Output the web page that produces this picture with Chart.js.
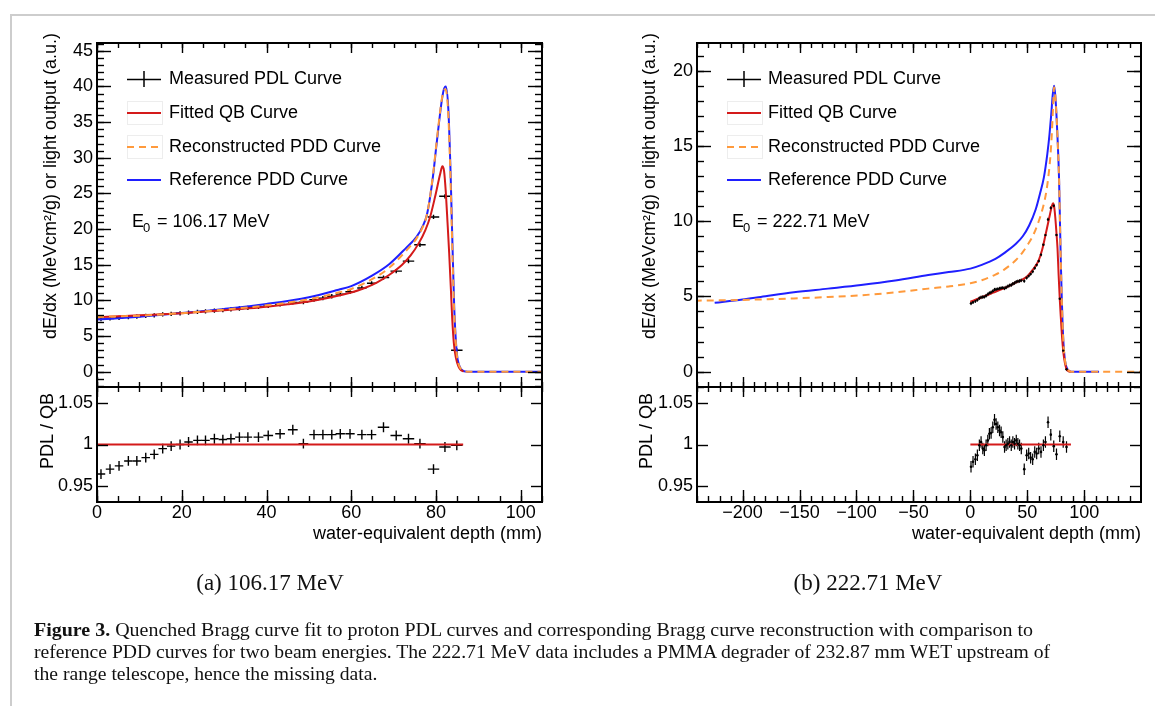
<!DOCTYPE html>
<html>
<head>
<meta charset="utf-8">
<script src="https://cdn.jsdelivr.net/npm/chart.js@4.4.1/dist/chart.umd.min.js"></script>
<style>
html,body{margin:0;padding:0;background:#fff;}
#page{position:relative;width:1155px;height:706px;overflow:hidden;background:#fff;}
#page canvas{position:absolute;left:0;top:0;}
.fr{position:absolute;background:#cdcdcd;}
.sub{position:absolute;width:320px;text-align:center;font-family:"Liberation Serif","DejaVu Serif",serif;font-size:23px;line-height:28px;color:#111;white-space:nowrap;}
.cap{position:absolute;left:34px;font-family:"Liberation Serif","DejaVu Serif",serif;font-size:18px;line-height:20px;color:#111;white-space:nowrap;transform-origin:0 0;}
</style>
</head>
<body>
<div id="page">
  <div class="fr" style="left:10px;top:14px;width:1145px;height:2px"></div>
  <div class="fr" style="left:10px;top:14px;width:2px;height:692px"></div>
  <canvas id="cLT" width="1155" height="706"></canvas>
  <canvas id="cLB" width="1155" height="706"></canvas>
  <canvas id="cRT" width="1155" height="706"></canvas>
  <canvas id="cRB" width="1155" height="706"></canvas>
  <div class="sub" style="left:110px;top:569px">(a) 106.17 MeV</div>
  <div class="sub" style="left:708px;top:569px">(b) 222.71 MeV</div>
  <div class="cap" id="cap1" style="top:620px"><b>Figure 3.</b> Quenched Bragg curve fit to proton PDL curves and corresponding Bragg curve reconstruction with comparison to</div>
  <div class="cap" id="cap2" style="top:642px">reference PDD curves for two beam energies. The 222.71 MeV data includes a PMMA degrader of 232.87 mm WET upstream of</div>
  <div class="cap" id="cap3" style="top:664px">the range telescope, hence the missing data.</div>
</div>
<script>
// ---------------- DATA ----------------
// (a) 106.17 MeV : measured PDL bins
const leftX     = [0.94, 3.07, 5.2, 7.4, 9.4, 11.5, 13.5, 15.5, 17.5, 19.6, 21.6, 23.7, 25.6, 27.7, 29.7, 31.6, 33.6, 35.6, 38.1, 40.4, 43.2, 46.2, 48.7, 51.2, 53.3, 55.4, 57.4, 59.7, 62.5, 64.8, 67.6, 70.6, 73.5, 76.2, 79.4, 82.1, 84.9];
const leftErrX  = [1.0, 1.0, 1.0, 1.0, 1.0, 1.0, 1.0, 1.0, 1.0, 1.0, 1.0, 1.0, 1.0, 1.0, 1.0, 1.0, 1.0, 1.0, 1.15, 1.15, 1.15, 1.15, 1.15, 1.1, 1.1, 1.1, 1.1, 1.1, 1.1, 1.1, 1.35, 1.35, 1.35, 1.35, 1.35, 1.35, 1.35];
const leftPDL   = [7.36, 7.46, 7.56, 7.66, 7.72, 7.82, 7.90, 8.03, 8.11, 8.19, 8.28, 8.39, 8.46, 8.57, 8.64, 8.74, 8.86, 8.96, 9.08, 9.23, 9.44, 9.71, 9.76, 10.10, 10.32, 10.58, 10.88, 11.20, 11.74, 12.40, 13.20, 14.10, 15.50, 17.80, 21.70, 24.60, 3.00];
const leftRatio = [0.964, 0.970, 0.974, 0.980, 0.980, 0.984, 0.988, 0.995, 0.998, 1.000, 1.003, 1.005, 1.005, 1.007, 1.006, 1.007, 1.009, 1.009, 1.009, 1.011, 1.013, 1.018, 1.001, 1.012, 1.012, 1.012, 1.013, 1.013, 1.012, 1.012, 1.021, 1.011, 1.007, 1.001, 0.970, 0.997, 0.999];
// (a) curves
const leftQBx  = [0, 5, 10, 15, 20, 25, 30, 35, 40, 45, 50, 55, 60, 63, 66, 69, 72, 74, 76, 77.5, 78.6, 79.8, 81.0, 81.5, 81.9, 82.3, 82.7, 83.1, 83.5, 83.8, 84.2, 84.7, 85.3, 85.9, 86.5];
const leftQBy  = [7.62, 7.76, 7.9, 8.05, 8.2, 8.4, 8.6, 8.85, 9.12, 9.45, 9.85, 10.4, 11.1, 11.7, 12.5, 13.6, 15.0, 16.3, 18.1, 19.9, 21.7, 24.6, 27.8, 28.8, 28.1, 25.2, 21.0, 16.6, 11.6, 7.6, 4.0, 1.9, 0.7, 0.2, 0.03];
const leftRecx = [0, 10, 20, 30, 40, 50, 57, 60, 65, 69, 73, 75.4, 77, 77.8, 78.6, 79.4, 80.0, 80.6, 81.3, 81.8, 82.2, 82.8, 83.3, 83.7, 84.2, 84.8, 85.3, 85.9, 86.6, 87.5, 105];
const leftRecy = [7.68, 7.85, 8.2, 8.7, 9.3, 10.15, 11.1, 11.6, 13.0, 14.6, 17.0, 18.7, 20.5, 21.9, 24.6, 28.2, 31.5, 34.7, 38.0, 39.4, 39.6, 37.0, 29.5, 20.5, 9.8, 3.0, 1.1, 0.35, 0.05, 0, 0];
const leftRefx = [0, 10, 20, 30, 40, 50, 57, 60, 65, 69, 73, 75.4, 77, 77.8, 78.6, 79.4, 80.0, 80.6, 81.3, 81.8, 82.3, 82.9, 83.4, 83.8, 84.3, 84.9, 85.4, 85.9, 86.6, 87.5, 105];
const leftRefy = [7.3, 7.72, 8.22, 8.8, 9.5, 10.45, 11.5, 12.0, 13.5, 15.1, 17.4, 18.9, 20.6, 21.9, 24.5, 28.0, 31.3, 34.4, 37.8, 39.5, 40.0, 36.8, 28.5, 19.5, 8.8, 2.6, 1.0, 0.35, 0.05, 0, 0];
const leftFitRange = [0, 86.4];

// (b) 222.71 MeV : measured PDL points
const rightX     = [0.56, 2.33, 4.4, 6.15, 7.9, 9.4, 10.9, 12.3, 13.8, 15.3, 16.7, 18.2, 19.7, 21.2, 22.6, 24.1, 25.6, 27.0, 28.5, 30.0, 31.4, 32.9, 34.4, 35.9, 37.3, 38.8, 40.3, 41.7, 43.2, 44.7, 47.3, 49.4, 51.2, 52.9, 54.7, 56.5, 58.2, 60.0, 62.0, 64.1, 65.9, 68.2, 70.6, 73.2, 75.6, 78.5, 81.5, 84.4];
const rightPDL   = [4.54, 4.62, 4.69, 4.77, 4.88, 4.94, 4.96, 4.98, 5.05, 5.14, 5.22, 5.27, 5.35, 5.45, 5.46, 5.49, 5.52, 5.55, 5.57, 5.54, 5.60, 5.67, 5.73, 5.76, 5.84, 5.89, 5.97, 6.00, 6.03, 6.07, 6.03, 6.24, 6.37, 6.50, 6.66, 6.89, 7.10, 7.36, 7.78, 8.44, 9.08, 10.12, 10.88, 11.03, 9.09, 4.85, 1.40, 0.16];
const rightRatio = [0.973, 0.979, 0.982, 0.987, 0.999, 1.003, 0.995, 0.993, 0.999, 1.005, 1.013, 1.014, 1.021, 1.030, 1.025, 1.021, 1.017, 1.015, 1.009, 0.997, 0.999, 1.001, 1.003, 0.999, 1.003, 1.001, 1.005, 1.001, 0.999, 0.995, 0.970, 0.987, 0.989, 0.984, 0.982, 0.991, 0.989, 0.995, 0.991, 0.999, 1.003, 1.027, 1.012, 0.998, 0.988, 1.010, 1.003, 0.997];
// (b) curves
const rightQBx  = [0, 5, 10, 15, 20, 25, 30, 35, 40, 45, 50, 55, 60, 63, 66, 68, 70, 71.5, 72.6, 73.5, 74.5, 75.5, 76.5, 77.5, 78.5, 79.5, 80.5, 81.5, 82.5, 83.5, 84.5, 86, 88.3];
const rightQBy  = [4.65, 4.8, 4.95, 5.1, 5.25, 5.41, 5.56, 5.73, 5.93, 6.1, 6.35, 6.8, 7.4, 8.1, 9.1, 9.8, 10.5, 11.0, 11.2, 11.0, 10.3, 9.3, 8.2, 6.4, 4.8, 3.5, 2.3, 1.4, 0.8, 0.4, 0.15, 0.04, 0];
const rightRecx = [-242, -220, -200, -184, -155, -125, -96, -66, -37, -19, 0, 10, 22, 30, 40, 46, 50, 55, 60, 64, 66.5, 68.2, 70, 71.5, 72.6, 73.5, 74.5, 75.5, 76.5, 77.9, 78.7, 79.4, 80.2, 80.9, 81.8, 82.8, 83.8, 85, 86.7, 88, 149];
const rightRecy = [4.72, 4.74, 4.77, 4.8, 4.87, 4.96, 5.08, 5.27, 5.52, 5.66, 5.88, 6.08, 6.45, 6.8, 7.42, 7.95, 8.4, 9.05, 10.0, 11.0, 11.9, 12.8, 14.1, 15.8, 17.6, 18.9, 18.4, 17.2, 15.6, 12.7, 9.8, 7.3, 5.0, 3.3, 1.8, 0.9, 0.45, 0.2, 0.05, 0, 0];
const rightRefx = [-224.5, -200, -184, -155, -125, -96, -66, -37, -19, 0, 10, 22, 30, 40, 46, 51.5, 57.4, 61, 64.5, 67.6, 69.5, 71, 72.3, 73.5, 74.5, 75.5, 76.5, 77.9, 78.7, 79.4, 80.2, 80.9, 81.8, 82.8, 83.8, 85, 86.7, 88, 113];
const rightRefy = [4.58, 4.8, 4.97, 5.28, 5.52, 5.76, 6.06, 6.42, 6.62, 6.85, 7.1, 7.5, 7.9, 8.5, 9.0, 9.7, 10.8, 11.8, 12.9, 14.5, 15.8, 17.1, 18.4, 19.0, 18.4, 17.2, 15.6, 12.7, 9.8, 7.3, 5.0, 3.3, 1.8, 0.9, 0.45, 0.2, 0.05, 0, 0];
const rightFitRange = [0, 88.3];

// tick labels / texts
const energies   = ['106.17 MeV', '222.71 MeV'];
const seriesNames = ['Measured PDL Curve', 'Fitted QB Curve', 'Reconstructed PDD Curve', 'Reference PDD Curve'];
const yTitleTop   = 'dE/dx (MeVcm\u00B2/g) or light output (a.u.)';
const yTitleRatio = 'PDL / QB';
const xTitle      = 'water-equivalent depth (mm)';

// ---------------- STYLE ----------------
const FONT = '"Liberation Sans", Arial, Helvetica, sans-serif';
const RED = '#d41a1a', BLUE = '#1f1fff', ORANGE = '#ff9a3c';

function pts(xs, ys) { return xs.map((x, i) => ({x: x, y: ys[i]})); }
function curve(label, xs, ys, color, dash, box) {
  return {label, data: pts(xs, ys), borderColor: color, backgroundColor: color, borderWidth: 2,
          borderDash: dash || [], pointRadius: 0, pointHoverRadius: 0, fill: false,
          cubicInterpolationMode: 'monotone', showLine: true, legendBox: !!box};
}
function points(label, xs, ys, ex, ey, r, lw) {
  return {label, data: pts(xs, ys), showLine: false, pointRadius: r, pointHoverRadius: r,
          pointBackgroundColor: '#000', pointBorderColor: '#000', pointBorderWidth: 0,
          borderColor: '#000', backgroundColor: '#000', errX: ex, errY: ey, errWidth: lw || 1.4, isPoints: true};
}

// error bars, drawn below the curves through the chart scales
const errorBars = {
  id: 'errorBars',
  beforeDatasetsDraw(chart) {
    const {ctx, chartArea: a, scales: {x, y}} = chart;
    ctx.save();
    ctx.beginPath(); ctx.rect(a.left, a.top, a.right - a.left, a.bottom - a.top); ctx.clip();
    ctx.strokeStyle = '#000';
    chart.data.datasets.forEach(ds => {
      if (!ds.isPoints) return;
      ctx.lineWidth = ds.errWidth;
      ds.data.forEach((p, i) => {
        const ex = Array.isArray(ds.errX) ? ds.errX[i] : ds.errX;
        const ey = Array.isArray(ds.errY) ? ds.errY[i] : ds.errY;
        const px = x.getPixelForValue(p.x), py = y.getPixelForValue(p.y);
        ctx.beginPath();
        ctx.moveTo(x.getPixelForValue(p.x - ex), py); ctx.lineTo(x.getPixelForValue(p.x + ex), py);
        ctx.moveTo(px, y.getPixelForValue(p.y - ey)); ctx.lineTo(px, y.getPixelForValue(p.y + ey));
        ctx.stroke();
      });
    });
    ctx.restore();
  }
};

// ROOT style frame with inward ticks on all four sides
const rootFrame = {
  id: 'rootFrame',
  afterDraw(chart, args, o) {
    const {ctx, chartArea: a, scales: {x, y}} = chart;
    ctx.save();
    ctx.strokeStyle = '#000'; ctx.lineWidth = 1.4;
    const seg = (x0, y0, x1, y1) => { ctx.beginPath(); ctx.moveTo(x0, y0); ctx.lineTo(x1, y1); ctx.stroke(); };
    const xt = (step, len) => {
      for (let i = Math.ceil(x.min / step - 1e-6); i * step <= x.max + 1e-6; i++) {
        const px = Math.round(x.getPixelForValue(i * step)) + 0.5;
        seg(px, a.bottom, px, a.bottom - len[0]); seg(px, a.top, px, a.top + len[1]);
      }
    };
    const yt = (step, len) => {
      for (let i = Math.ceil(y.min / step - 1e-6); i * step <= y.max + 1e-6; i++) {
        const py = Math.round(y.getPixelForValue(i * step)) + 0.5;
        seg(a.left, py, a.left + len, py); seg(a.right, py, a.right - len, py);
      }
    };
    if (o.xMinor) xt(o.xMinor, o.xMinorLen);
    xt(o.xMajor, o.xMajorLen);
    if (o.yMinor) yt(o.yMinor, o.yMinorLen);
    yt(o.yMajor, o.yMajorLen);
    ctx.lineWidth = 2;
    ctx.strokeRect(a.left, a.top, a.right - a.left, a.bottom - a.top);
    ctx.restore();
  }
};

// free texts (axis titles)
const rootText = {
  id: 'rootText',
  afterDraw(chart, args, o) {
    const ctx = chart.ctx;
    (o.items || []).forEach(it => {
      ctx.save();
      ctx.font = (it.size || 18) + 'px ' + FONT;
      ctx.fillStyle = '#000'; ctx.textAlign = it.align || 'left'; ctx.textBaseline = 'middle';
      ctx.translate(it.x, it.y);
      if (it.rot) ctx.rotate(it.rot);
      ctx.fillText(it.text, 0, 0);
      ctx.restore();
    });
  }
};

// ROOT-like legend built from the datasets
const rootLegend = {
  id: 'rootLegend',
  afterDraw(chart, args, o) {
    if (!o.rows) return;
    const ctx = chart.ctx, dss = chart.data.datasets;
    ctx.save();
    ctx.font = '18px ' + FONT; ctx.textBaseline = 'middle'; ctx.textAlign = 'left'; ctx.fillStyle = '#000';
    o.order.forEach((idx, k) => {
      const ds = dss[idx], yy = o.rows[k];
      const xm = (o.x0 + o.x1) / 2;
      if (ds.isPoints) {
        ctx.strokeStyle = '#000'; ctx.lineWidth = 1.5; ctx.setLineDash([]);
        ctx.beginPath(); ctx.moveTo(o.x0, yy + 0.5); ctx.lineTo(o.x1, yy + 0.5);
        ctx.moveTo(xm, yy - 8); ctx.lineTo(xm, yy + 8); ctx.stroke();
      } else {
        if (ds.legendBox) {
          ctx.strokeStyle = 'rgba(0,0,0,0.07)'; ctx.lineWidth = 1; ctx.setLineDash([]);
          ctx.strokeRect(o.x0 + 0.5, yy - 11.5, o.x1 - o.x0 + 1, 23);
        }
        ctx.strokeStyle = ds.borderColor; ctx.lineWidth = 2; ctx.setLineDash(ds.borderDash || []);
        ctx.beginPath(); ctx.moveTo(o.x0, yy); ctx.lineTo(o.x1, yy); ctx.stroke();
        ctx.setLineDash([]);
      }
      ctx.fillText(ds.label, o.tx, yy);
    });
    // energy label E0 = ...
    ctx.fillText('E', o.ex, o.ey);
    ctx.font = '13px ' + FONT; ctx.fillText('0', o.ex + 11, o.ey + 6);
    ctx.font = '18px ' + FONT; ctx.fillText('= ' + o.energy, o.ex + 25, o.ey);
    ctx.restore();
  }
};

function yAxis(min, max, step, fmt) {
  return {type: 'linear', position: 'left', min, max,
    afterFit(s) { s.width = 60; },
    grid: {display: false, drawTicks: false}, border: {display: false},
    ticks: {stepSize: step, includeBounds: false, autoSkip: false, padding: 4, color: '#000',
            font: {family: FONT, size: 18}, callback: fmt}};
}
function xAxis(min, max, step, show) {
  if (!show) return {type: 'linear', position: 'bottom', min, max, display: false};
  return {type: 'linear', position: 'bottom', min, max,
    afterFit(s) { s.height = 50; },
    grid: {display: false, drawTicks: false}, border: {display: false},
    ticks: {stepSize: step, includeBounds: false, autoSkip: false, maxRotation: 0, minRotation: 0,
            padding: 0, color: '#000', font: {family: FONT, size: 18},
            callback: v => String(v).replace('-', '\u2212')}};
}
const intFmt = v => String(v);
const ratioFmt = v => String(Math.round(v * 100) / 100);

function build(id, datasets, scales, padding, frame, texts, legend) {
  return new Chart(document.getElementById(id), {
    type: 'line',
    data: {datasets},
    options: {
      responsive: false, animation: false, devicePixelRatio: 1,
      layout: {padding},
      scales,
      plugins: {legend: {display: false}, tooltip: {enabled: false},
                rootFrame: frame, rootText: {items: texts}, rootLegend: legend || {}}
    },
    plugins: [errorBars, rootFrame, rootText, rootLegend]
  });
}

const CW = 1155, CH = 706;
const HP = Math.PI / 2;
// panel geometry (pixels)
const L = {left: 97, right: 542}, R = {left: 697, right: 1141};
const topY = 43, midY = 387, botY = 502;

const topFrameL = {xMajor: 20, xMinor: 5, yMajor: 5, yMinor: 1, xMajorLen: [10, 10], xMinorLen: [5, 5], yMajorLen: 14, yMinorLen: 7};
const topFrameR = {xMajor: 50, xMinor: 10, yMajor: 5, yMinor: 1, xMajorLen: [10, 10], xMinorLen: [5, 5], yMajorLen: 14, yMinorLen: 7};
const botFrameL = {xMajor: 20, xMinor: 5, yMajor: 0.05, xMajorLen: [12, 10], xMinorLen: [6, 5], yMajorLen: 11};
const botFrameR = {xMajor: 50, xMinor: 10, yMajor: 0.05, xMajorLen: [12, 10], xMinorLen: [6, 5], yMajorLen: 11};

// ----- (a) top -----
build('cLT',
  [points(seriesNames[0], leftX, leftPDL, leftErrX, 0.3, 0),
   curve(seriesNames[2], leftRecx, leftRecy, ORANGE, [7, 5], true),
   curve(seriesNames[1], leftQBx, leftQBy, RED, [], true),
   curve(seriesNames[3], leftRefx, leftRefy, BLUE, [])],
  {x: xAxis(0, 105, 20, false), y: yAxis(-2.15, 46.1, 5, intFmt)},
  {left: L.left - 60, right: CW - L.right, top: topY, bottom: CH - midY},
  topFrameL,
  [{text: yTitleTop, x: 51, y: 33, align: 'right', rot: -HP}],
  {rows: [79, 113, 147, 180], order: [0, 2, 1, 3], x0: 127, x1: 161, tx: 169, ex: 132, ey: 222, energy: energies[0]});

// ----- (a) ratio -----
build('cLB',
  [points('ratio', leftX, leftRatio, leftErrX, 0.006, 0),
   curve('unity', leftFitRange, [1, 1], RED, [])],
  {x: xAxis(0, 105, 20, true), y: yAxis(0.93, 1.07, 0.05, ratioFmt)},
  {left: L.left - 60, right: CW - L.right, top: midY, bottom: CH - botY - 50},
  botFrameL,
  [{text: yTitleRatio, x: 48, y: 393, align: 'right', rot: -HP},
   {text: xTitle, x: L.right, y: 534, align: 'right'}]);

// ----- (b) top -----
build('cRT',
  [points(seriesNames[0], rightX, rightPDL, 0.7, 0.12, 1.2, 1),
   curve(seriesNames[2], rightRecx, rightRecy, ORANGE, [7, 5], true),
   curve(seriesNames[1], rightQBx, rightQBy, RED, [], true),
   curve(seriesNames[3], rightRefx, rightRefy, BLUE, [])],
  {x: xAxis(-240, 149.8, 50, false), y: yAxis(-1.02, 21.85, 5, intFmt)},
  {left: R.left - 60, right: CW - R.right, top: topY, bottom: CH - midY},
  topFrameR,
  [{text: yTitleTop, x: 650, y: 33, align: 'right', rot: -HP}],
  {rows: [79, 113, 147, 180], order: [0, 2, 1, 3], x0: 727, x1: 761, tx: 768, ex: 732, ey: 222, energy: energies[1]});

// ----- (b) ratio -----
build('cRB',
  [points('ratio', rightX, rightRatio, 0.6, 0.007, 1.3, 1.2),
   curve('unity', rightFitRange, [1, 1], RED, [])],
  {x: xAxis(-240, 149.8, 50, true), y: yAxis(0.93, 1.07, 0.05, ratioFmt)},
  {left: R.left - 60, right: CW - R.right, top: midY, bottom: CH - botY - 50},
  botFrameR,
  [{text: yTitleRatio, x: 647, y: 393, align: 'right', rot: -HP},
   {text: xTitle, x: R.right, y: 534, align: 'right'}]);

// fit caption lines to the reference line widths
(function fitCaption() {
  const fit = (id, target) => {
    const el = document.getElementById(id);
    const s = target / el.getBoundingClientRect().width;
    el.style.transform = 'scaleX(' + s + ')';
    return s;
  };
  fit('cap1', 999);
  const s2 = fit('cap2', 1016);
  document.getElementById('cap3').style.transform = 'scaleX(' + s2 + ')';
})();
</script>
</body>
</html>
